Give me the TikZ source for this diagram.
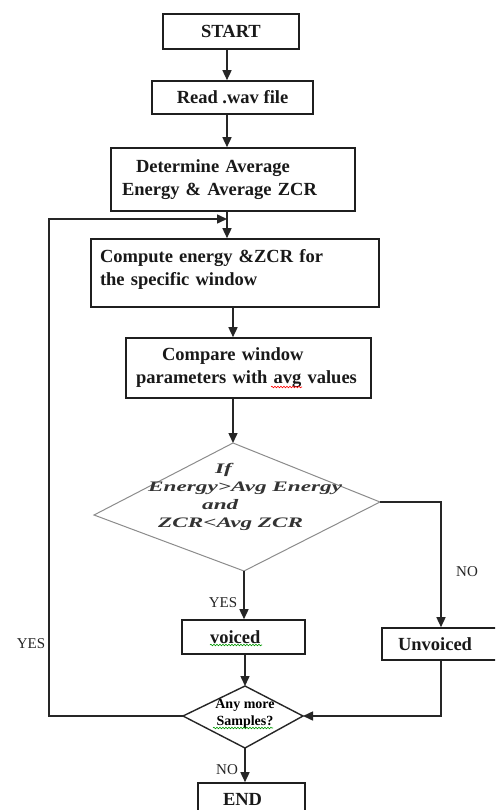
\documentclass[tikz,border=0pt]{standalone}
\usepackage{fontspec}
\setmainfont{Liberation Serif}
\newfontfamily\widefont[FakeStretch=1.6]{Liberation Serif}
\usetikzlibrary{arrows.meta,decorations.pathmorphing}
\begin{document}
\begin{tikzpicture}[x=1pt,y=-1pt,
  box/.style={draw=black!88, line width=1.6pt, inner sep=0pt, font=\fontsize{18.5}{23}\selectfont\bfseries, text=black!90},
  arr/.style={draw=black!85, line width=1.5pt, -{Triangle[length=10pt,width=9pt]}},
  dia/.style={draw=black!45, line width=1pt},
  dia2/.style={draw=black!85, line width=1.4pt},
  lbl/.style={font=\fontsize{15}{17}\selectfont, text=black!85, inner sep=0pt},
  wavy/.style={line width=0.6pt, decorate, decoration={snake, segment length=3pt, amplitude=0.8pt}}]
\useasboundingbox (0,0) rectangle (495,810);
\fill[white] (0,0) rectangle (495,810);
\clip (0,0) rectangle (495,810);

% boxes
\node[box, minimum width=136pt, minimum height=35pt] (start) at (231,31.5) {START};
\node[box, minimum width=161pt, minimum height=33pt] (read) at (232.5,97.5) {Read .wav file};
\node[box, text width=222pt, inner xsep=11pt, minimum height=63pt, align=left] (avg) at (233,179.5)
  {\hspace*{14pt}Determine Average\\Energy \& Average ZCR};
\node[box, text width=270pt, inner xsep=9pt, minimum height=68pt, align=left] (comp) at (235,273)
  {Compute energy \&ZCR for\\the specific window\rule[-12pt]{0pt}{12pt}};
\node[box, text width=225pt, inner xsep=10pt, minimum height=60pt, align=left] (cmp) at (248.5,368)
  {\hspace*{26pt}Compare window\\parameters with avg values};

% decision 1
\coordinate (d1t) at (233,443);
\coordinate (d1r) at (380,502);
\coordinate (d1b) at (244,571);
\coordinate (d1l) at (94,515);
\draw[dia] (d1t) -- (d1r) -- (d1b) -- (d1l) -- cycle;
\node[font=\widefont\fontsize{14.5}{18}\selectfont\bfseries\itshape, align=left, inner sep=0pt,
  anchor=north west, text=black!80] (cond) at (148,463)
  {\hspace*{67pt}If\\Energy>Avg Energy\\\hspace*{54pt}and\\\hspace*{10pt}ZCR<Avg ZCR};

\node[box, text width=67pt, inner xsep=28pt, minimum height=34pt, align=left] (voiced) at (243.5,637) {voiced};
\node[box, text width=106pt, inner xsep=16pt, minimum height=32pt, align=left] (unv) at (451,644) {Unvoiced};

% decision 2
\coordinate (d2t) at (245,686);
\coordinate (d2r) at (303,716);
\coordinate (d2b) at (245,748);
\coordinate (d2l) at (183,716);
\draw[dia2] (d2t) -- (d2r) -- (d2b) -- (d2l) -- cycle;
\node[font=\fontsize{14}{17}\selectfont\bfseries, align=center, inner sep=0pt] (anym) at (245,714) {Any more\\Samples?};

\node[box, text width=57pt, inner xsep=25pt, minimum height=32pt, align=left] (end) at (251.5,799) {END};

% connectors
\coordinate (cA) at (227,0);
\coordinate (cB) at (233,0);
\coordinate (cR) at (441,0);
\coordinate (cL) at (49,0);
\coordinate (cLoop) at (227,219);
\draw[arr] (start.south -| cA) -- (read.north -| cA);
\draw[arr] (read.south -| cA) -- (avg.north -| cA);
\draw[arr] (avg.south -| cA) -- (comp.north -| cA);
\draw[arr] (comp.south -| cB) -- (cmp.north -| cB);
\draw[arr] (cmp.south -| cB) -- (d1t);
\draw[arr] (d1r) -- (d1r -| cR) -- (unv.north -| cR);
\draw[arr] (d1b) -- (voiced.north -| d1b);
\draw[arr] (voiced.south -| d2t) -- (d2t);
\draw[arr] (unv.south -| cR) -- (d2r -| cR) -- (d2r);
\draw[arr] (d2b) -- (end.north -| d2b);
\draw[arr] (d2l) -- (d2l -| cL) -- (cLoop -| cL) -- (cLoop);

% labels
\node[lbl] (yesL) at (31,644) {YES};
\node[lbl] (noR) at (467,572) {NO};
\node[lbl] (yesM) at (223,603) {YES};
\node[lbl] (noB) at (227,770) {NO};

% spell-check underlines
\draw[wavy, red] (271,387) -- (302,387);
\draw[wavy, green!60!black] (210,645) -- (262,645);
\draw[wavy, green!60!black] (213,728) -- (273,728);
\end{tikzpicture}
\end{document}
